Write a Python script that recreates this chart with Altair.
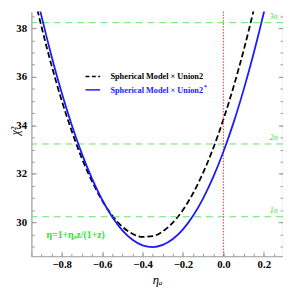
import altair as alt
import pandas as pd

# ---- data ----
eta_a = [-0.95, -0.90, -0.85, -0.80, -0.75, -0.70, -0.65, -0.60, -0.55, -0.50,
         -0.45, -0.40, -0.35, -0.30, -0.25, -0.20, -0.15, -0.10, -0.05, 0.00,
         0.05, 0.10, 0.15, 0.20, 0.25]
chi2_union2 = [39.83, 38.06, 36.46, 35.02, 33.75, 32.63, 31.69, 30.90, 30.28, 29.82,
               29.53, 29.40, 29.43, 29.63, 29.99, 30.51, 31.20, 32.05, 33.06, 34.24,
               35.58, 37.08, 38.75, 40.58, 42.58]
chi2_union2s = [40.32, 38.50, 36.84, 35.34, 34.00, 32.82, 31.80, 30.93, 30.22, 29.67,
                29.28, 29.05, 28.98, 29.07, 29.31, 29.71, 30.27, 30.99, 31.87, 32.91,
                34.10, 35.46, 36.97, 38.64, 40.47]
sigma_levels = [30.23, 33.23, 38.23]
sigma_labels = ["1σ", "2σ", "3σ"]
x_major = [-0.8, -0.6, -0.4, -0.2, 0.0, 0.2]
x_minor = [round(-0.95 + 0.05 * i, 2) for i in range(25)]
y_major = [30, 32, 34, 36, 38]
y_minor = [29 + 0.5 * i for i in range(20)]
legend_names = ["Spherical Model × Union2", "Spherical Model × Union2"]
formula_text = "η=1+ηₐz/(1+z)"

# ---- styling ----
W, H = 258, 251
XDOM = [-0.95, 0.295]
YDOM = [28.6, 38.69]
GREEN_LINE = "#5ee65e"
GREEN_TEXT = "#33dd33"
BLUE = "#1a1aff"
FRAME = "#9a9a9a"
SERIF = "Liberation Serif"

xs = alt.Scale(domain=XDOM, nice=False, zero=False)
ys = alt.Scale(domain=YDOM, nice=False, zero=False)

df = pd.DataFrame({"eta": eta_a, "u2": chi2_union2, "u2s": chi2_union2s})
sig_df = pd.DataFrame({"lvl": sigma_levels, "lab": sigma_labels, "xl": [0.249] * 3})

x_main = alt.Axis(orient="bottom", values=x_major, format=".1f", ticks=False, tickSize=0,
                  labelFont=SERIF, labelFontWeight="bold", labelFontSize=11, labelColor="black",
                  labelPadding=3, domain=True, domainColor=FRAME, domainWidth=1.2, grid=False,
                  title="ηₐ", titleFont=SERIF, titleFontStyle="italic", titleFontWeight="normal",
                  titleFontSize=13, titleColor="black", titlePadding=4, labelFlush=False)
y_main = alt.Axis(orient="left", values=y_major, format="d", ticks=False, tickSize=0,
                  labelFont=SERIF, labelFontWeight="bold", labelFontSize=11, labelColor="black",
                  labelPadding=5, domain=True, domainColor=FRAME, domainWidth=1.2, grid=False,
                  title="χ²", titleFont=SERIF, titleFontStyle="italic", titleFontWeight="normal",
                  titleFontSize=12, titleColor="black", titleX=-17, titleY=122,
                  titleBaseline="middle", titleAlign="center", titleAngle=270)

base = alt.Chart(df)

black = base.mark_line(color="black", strokeDash=[6, 3], strokeWidth=1.8, clip=True,
                       interpolate="monotone").encode(
    x=alt.X("eta:Q", scale=xs, axis=x_main),
    y=alt.Y("u2:Q", scale=ys, axis=y_main))
blue = base.mark_line(color=BLUE, strokeWidth=1.8, clip=True, interpolate="monotone").encode(
    x=alt.X("eta:Q", scale=xs, axis=None),
    y=alt.Y("u2s:Q", scale=ys, axis=None))

sig_lines = alt.Chart(sig_df).mark_rule(color=GREEN_LINE, strokeDash=[7, 5], strokeWidth=1).encode(
    y=alt.Y("lvl:Q", scale=ys, axis=None))
sig_text = alt.Chart(sig_df).mark_text(color=GREEN_TEXT, font=SERIF, fontStyle="italic",
                                       fontSize=8, dy=-6).encode(
    x=alt.X("xl:Q", scale=xs, axis=None), y=alt.Y("lvl:Q", scale=ys, axis=None), text="lab:N")

zero_df = pd.DataFrame({"z": [0.0]})
red = alt.Chart(zero_df).mark_rule(color="#ff2a2a", strokeDash=[1.5, 1.5], strokeWidth=1).encode(
    x=alt.X("z:Q", scale=xs, axis=None))

leg_df = pd.DataFrame({"x1": [-0.682, -0.682], "x2": [-0.610, -0.610], "y": [36.01, 35.46],
                       "tx": [-0.559, -0.559], "name": legend_names, "s": ["a", "b"]})
leg_black = alt.Chart(leg_df.iloc[[0]]).mark_rule(color="black", strokeDash=[4, 2.5], strokeWidth=1.5).encode(
    x=alt.X("x1:Q", scale=xs, axis=None), x2="x2:Q", y=alt.Y("y:Q", scale=ys, axis=None))
leg_blue = alt.Chart(leg_df.iloc[[1]]).mark_rule(color=BLUE, strokeWidth=1.5).encode(
    x=alt.X("x1:Q", scale=xs, axis=None), x2="x2:Q", y=alt.Y("y:Q", scale=ys, axis=None))
leg_txt_black = alt.Chart(leg_df.iloc[[0]]).mark_text(align="left", baseline="middle", font=SERIF,
                                                      fontWeight="bold", fontSize=8.5, color="black").encode(
    x=alt.X("tx:Q", scale=xs, axis=None), y=alt.Y("y:Q", scale=ys, axis=None), text="name:N")
leg_txt_blue = alt.Chart(leg_df.iloc[[1]]).mark_text(align="left", baseline="middle", font=SERIF,
                                                     fontWeight="bold", fontSize=8.5, color=BLUE).encode(
    x=alt.X("tx:Q", scale=xs, axis=None), y=alt.Y("y:Q", scale=ys, axis=None), text="name:N")
star_df = pd.DataFrame({"x": [-0.096], "y": [35.46], "t": ["*"]})
leg_star = alt.Chart(star_df).mark_text(align="left", baseline="middle", font=SERIF, fontWeight="bold",
                                        fontSize=6, color=BLUE, dy=-3).encode(
    x=alt.X("x:Q", scale=xs, axis=None), y=alt.Y("y:Q", scale=ys, axis=None), text="t:N")

form_df = pd.DataFrame({"x": [-0.875], "y": [29.49], "t": [formula_text]})
formula = alt.Chart(form_df).mark_text(align="left", baseline="middle", font=SERIF, fontWeight="bold",
                                       fontSize=10, color=GREEN_TEXT).encode(
    x=alt.X("x:Q", scale=xs, axis=None), y=alt.Y("y:Q", scale=ys, axis=None), text="t:N")


def tick_axis(orient, values, size, domain=False):
    return alt.Axis(orient=orient, values=values, ticks=size > 0, tickSize=size, offset=-size,
                    tickColor=FRAME, tickWidth=1, labels=False, domain=domain,
                    domainColor=FRAME, domainWidth=1.2, grid=False, title=None)


def ghost(xaxis, yaxis):
    return base.mark_point(opacity=0).encode(
        x=alt.X("eta:Q", scale=xs, axis=xaxis),
        y=alt.Y("u2s:Q", scale=ys, axis=yaxis))


t_major = ghost(tick_axis("bottom", x_major, 5), tick_axis("left", y_major, 5))
t_minor = ghost(tick_axis("bottom", x_minor, 3), tick_axis("left", y_minor, 3))
r_major = ghost(None, tick_axis("right", y_major, 5))
r_minor = ghost(None, tick_axis("right", y_minor, 3))
r_dom = ghost(None, alt.Axis(orient="right", ticks=False, tickSize=0, labels=False, domain=True,
                             domainColor=FRAME, domainWidth=1.2, grid=False, title=None))

chart = alt.layer(
    black, sig_lines, red, blue, sig_text, leg_black, leg_blue, leg_txt_black, leg_txt_blue,
    leg_star, formula, t_major, t_minor, r_major, r_minor, r_dom
).resolve_axis(x="independent", y="independent").properties(
    width=W, height=H,
    autosize=alt.AutoSizeParams(type="none"),
    padding={"left": 24, "top": 0, "right": 0, "bottom": 33},
).configure_view(stroke=None)

chart.save("out.html", embed_options={"renderer": "svg", "actions": False})
